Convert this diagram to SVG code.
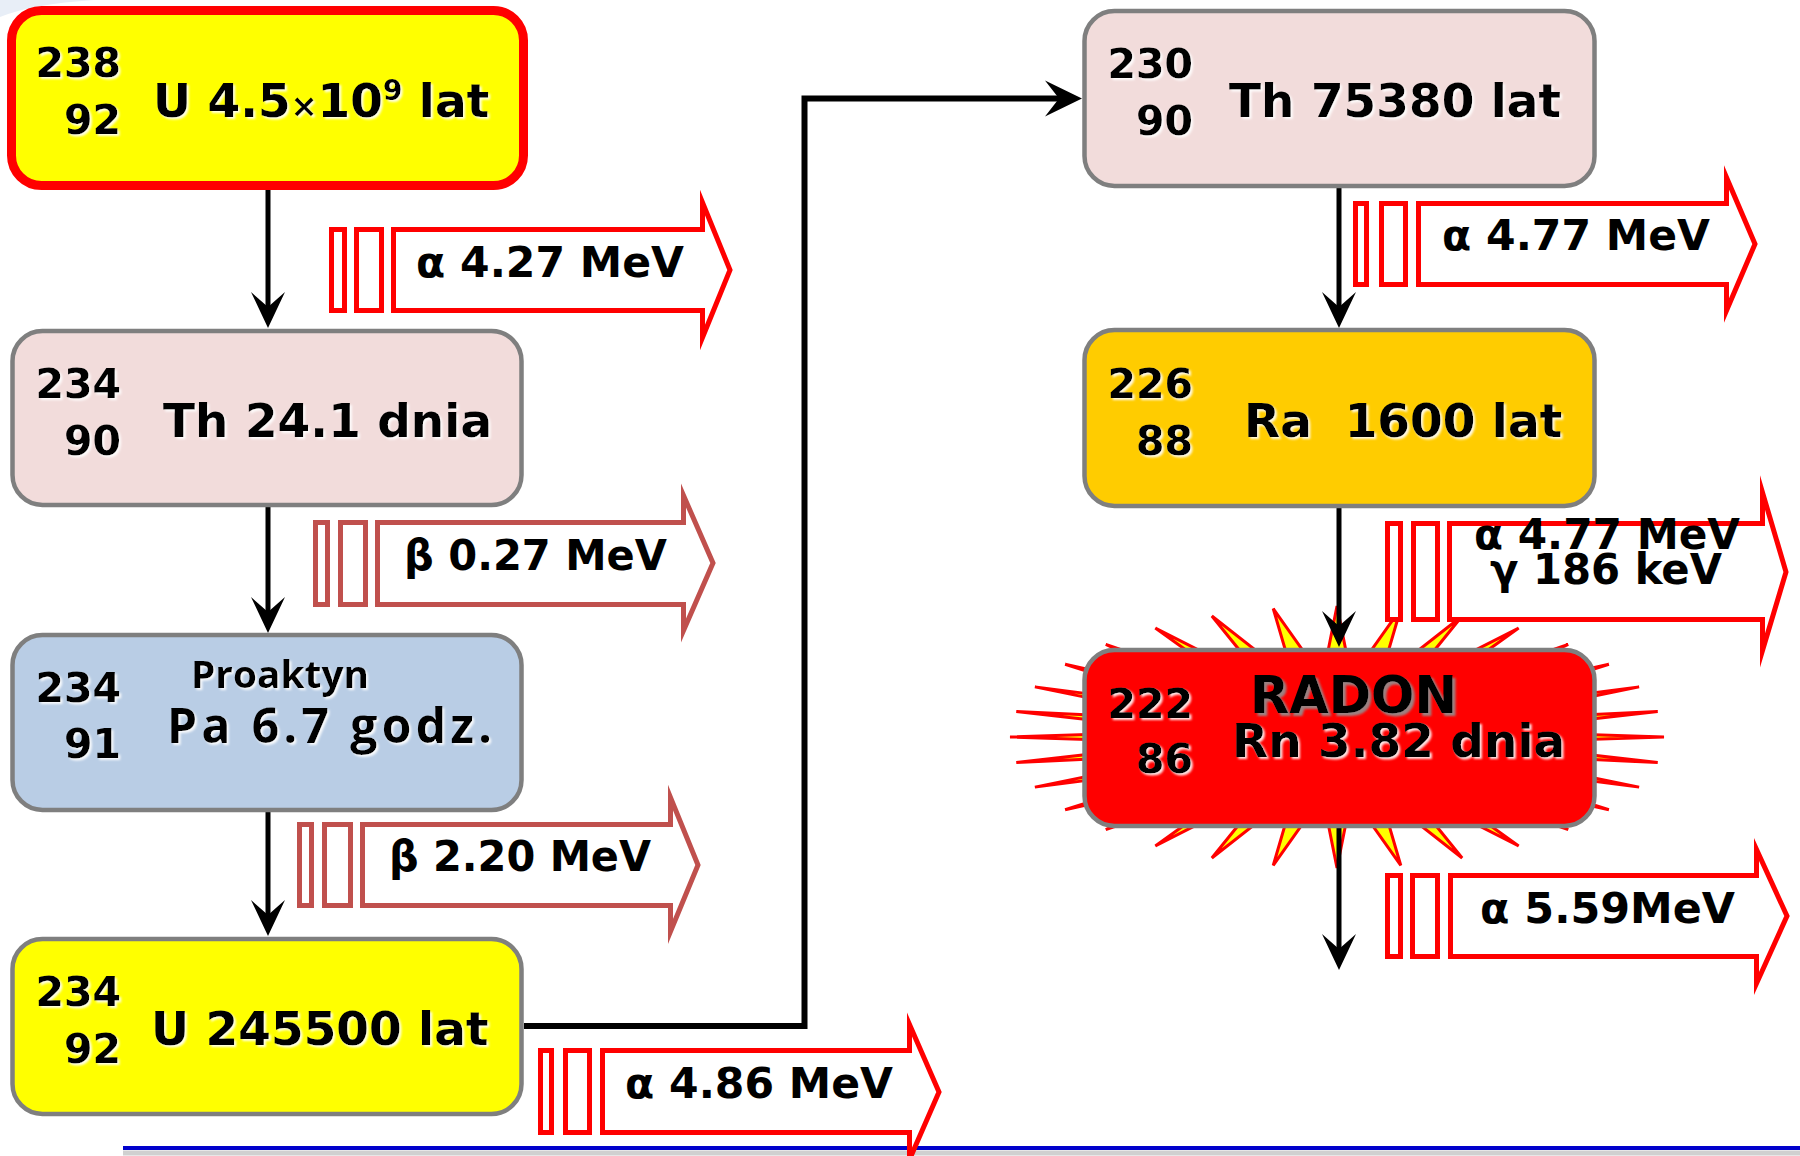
<svg xmlns="http://www.w3.org/2000/svg" width="1800" height="1156" viewBox="0 0 1800 1156">
<defs>
<style>
.t{font-family:"DejaVu Sans",Verdana,"Liberation Sans",sans-serif;font-weight:bold;fill:#000}
.num{font-size:41px;text-anchor:end}
.lbl{font-size:47px}
.en{font-size:42px}
.box{stroke:#7F7F7F;stroke-width:4.5}
.ar{fill:#fff;stroke:#FF0000;stroke-width:5;stroke-linejoin:miter;stroke-miterlimit:10}
.br{fill:#fff;stroke:#C0504D;stroke-width:5;stroke-linejoin:miter;stroke-miterlimit:10}
.ln{fill:none;stroke:#000;stroke-width:5}
.hd{fill:#000}
</style>
<filter id="ws" x="-5%" y="-20%" width="110%" height="140%">
<feDropShadow dx="2" dy="2" stdDeviation="0.8" flood-color="#FFFFFF" flood-opacity="0.9"/>
</filter>
<filter id="gs" x="-5%" y="-20%" width="110%" height="140%">
<feDropShadow dx="3" dy="3" stdDeviation="1.2" flood-color="#909090" flood-opacity="0.9"/>
</filter>
</defs>
<rect width="1800" height="1156" fill="#FFFFFF"/>
<path d="M0,0 L94,0 Q32,4 0,17 Z" fill="#E8EEF7"/>
<line x1="123" y1="1153" x2="1800" y2="1153" stroke="#D0D0D0" stroke-width="5"/>
<line x1="123" y1="1148" x2="1800" y2="1148" stroke="#0000CC" stroke-width="4"/>

<g id="starburst">
<polygon fill="#FFFF00" stroke="#FF0000" stroke-width="3" stroke-linejoin="miter" points="1664,737 1483.44,731.22 1657.72,711.44 1477.81,719.89 1639.11,686.87 1466.77,709.21 1608.89,664.22 1450.75,699.6 1568.22,644.37 1430.35,691.43 1518.67,628.08 1406.37,685.01 1462.14,615.97 1379.71,680.59 1400.79,608.52 1351.42,678.33 1337,606 1322.58,678.33 1273.21,608.52 1294.29,680.59 1211.86,615.97 1267.63,685.01 1155.33,628.08 1243.65,691.43 1105.78,644.37 1223.25,699.6 1065.11,664.22 1207.23,709.21 1034.89,686.87 1196.19,719.89 1016.28,711.44 1190.56,731.22 1010,737 1190.56,742.78 1016.28,762.56 1196.19,754.11 1034.89,787.13 1207.23,764.79 1065.11,809.78 1223.25,774.4 1105.78,829.63 1243.65,782.57 1155.33,845.92 1267.63,788.99 1211.86,858.03 1294.29,793.41 1273.21,865.48 1322.58,795.67 1337,868 1351.42,795.67 1400.79,865.48 1379.71,793.41 1462.14,858.03 1406.37,788.99 1518.67,845.92 1430.35,782.57 1568.22,829.63 1450.75,774.4 1608.89,809.78 1466.77,764.79 1639.11,787.13 1477.81,754.11 1657.72,762.56 1483.44,742.78"/>
</g>

<g id="emissions">
<g id="e1">
<rect class="ar" x="331.5" y="229.5" width="13" height="81"/>
<rect class="ar" x="356.5" y="229.5" width="25" height="81"/>
<path class="ar" d="M393.5,229.5 H702.5 V202.5 L730,270 L702.5,337.5 V310.5 H393.5 Z"/>
<text class="t en" x="416" y="277" textLength="268" lengthAdjust="spacingAndGlyphs">α 4.27 MeV</text>
</g>
<g id="e2">
<rect class="br" x="315.5" y="522.5" width="12" height="82"/>
<rect class="br" x="340.5" y="522.5" width="25" height="82"/>
<path class="br" d="M377.5,522.5 H683.5 V495.5 L713,563 L683.5,630.5 V604.5 H377.5 Z"/>
<text class="t en" x="404" y="570" textLength="263" lengthAdjust="spacingAndGlyphs">β 0.27 MeV</text>
</g>
<g id="e3">
<rect class="br" x="299.5" y="824.5" width="12" height="81"/>
<rect class="br" x="324.5" y="824.5" width="26" height="81"/>
<path class="br" d="M362.5,824.5 H670.5 V797.5 L698,865 L670.5,931.5 V905.5 H362.5 Z"/>
<text class="t en" x="389" y="871" textLength="262" lengthAdjust="spacingAndGlyphs">β 2.20 MeV</text>
</g>
<g id="e4">
<rect class="ar" x="540.5" y="1050.5" width="11" height="82"/>
<rect class="ar" x="565.5" y="1050.5" width="24" height="82"/>
<path class="ar" d="M602.5,1050.5 H909.5 V1024.5 L939,1092 L909.5,1159.5 V1132.5 H602.5 Z"/>
<text class="t en" x="625" y="1098" textLength="268" lengthAdjust="spacingAndGlyphs">α 4.86 MeV</text>
</g>
<g id="e5">
<rect class="ar" x="1355.5" y="203.5" width="11" height="81"/>
<rect class="ar" x="1381.5" y="203.5" width="24" height="81"/>
<path class="ar" d="M1418.5,203.5 H1726.5 V177.5 L1755,244 L1726.5,310.5 V284.5 H1418.5 Z"/>
<text class="t en" x="1442" y="250" textLength="268" lengthAdjust="spacingAndGlyphs">α 4.77 MeV</text>
</g>
<g id="e6">
<rect class="ar" x="1387.5" y="523.5" width="13" height="96"/>
<rect class="ar" x="1413.5" y="523.5" width="24" height="96"/>
<path class="ar" d="M1449.5,523.5 H1762.5 V492.5 L1786,572 L1762.5,650.5 V619.5 H1449.5 Z"/>
<text class="t en" x="1474" y="549" textLength="266" lengthAdjust="spacingAndGlyphs">α 4.77 MeV</text>
<text class="t en" x="1490" y="584" textLength="232" lengthAdjust="spacingAndGlyphs">γ 186 keV</text>
</g>
<g id="e7">
<rect class="ar" x="1387.5" y="875.5" width="13" height="81"/>
<rect class="ar" x="1412.5" y="875.5" width="25" height="81"/>
<path class="ar" d="M1450.5,875.5 H1756.5 V849.5 L1787,916 L1756.5,983.5 V956.5 H1450.5 Z"/>
<text class="t en" x="1480" y="923" textLength="255" lengthAdjust="spacingAndGlyphs">α 5.59MeV</text>
</g>
</g>

<g id="connectors">
<line class="ln" x1="268" y1="190" x2="268" y2="310"/>
<polygon class="hd" points="268,328 251,292 268,307 285,292"/>
<line class="ln" x1="268" y1="507" x2="268" y2="615"/>
<polygon class="hd" points="268,633 251,597 268,612 285,597"/>
<line class="ln" x1="268" y1="812" x2="268" y2="918"/>
<polygon class="hd" points="268,936 251,900 268,915 285,900"/>
<polyline fill="none" stroke="#000" stroke-width="6" stroke-linejoin="miter" points="524,1026 804.5,1026 804.5,98.5 1062,98.5"/>
<polygon class="hd" points="1082,98.5 1045,80.5 1059,98.5 1045,116.5"/>
<line class="ln" x1="1339" y1="188" x2="1339" y2="310"/>
<polygon class="hd" points="1339,328 1322,292 1339,307 1356,292"/>
<line class="ln" x1="1339" y1="508" x2="1339" y2="628"/>
<polygon class="hd" points="1339,647 1322,611 1339,626 1356,611"/>
<line class="ln" x1="1339" y1="828" x2="1339" y2="952"/>
<polygon class="hd" points="1339,970 1322,934 1339,949 1356,934"/>
</g>

<g id="u238">
<rect x="11.5" y="10.5" width="512" height="175" rx="30" fill="#FFFF00" stroke="#FF0000" stroke-width="9"/>
<g filter="url(#ws)">
<text class="t num" x="121" y="77">238</text>
<text class="t num" x="121" y="134">92</text>
<text class="t lbl" x="153" y="117">U 4.5<tspan style="font-size:32px">×</tspan>10<tspan dy="-17" style="font-size:28px">9</tspan><tspan dy="17"> lat</tspan></text>
</g>
</g>

<g id="th234">
<rect class="box" x="12.5" y="331" width="509" height="174" rx="30" fill="#F2DCDB"/>
<g filter="url(#ws)">
<text class="t num" x="121" y="398">234</text>
<text class="t num" x="121" y="455">90</text>
<text class="t lbl" x="163" y="437">Th 24.1 dnia</text>
</g>
</g>

<g id="pa234">
<rect class="box" x="12.5" y="635" width="509" height="175" rx="30" fill="#B9CDE5"/>
<g filter="url(#ws)">
<text class="t num" x="121" y="702">234</text>
<text class="t num" x="121" y="758">91</text>
<text x="191" y="688" style="font-family:'Open Sans','Noto Sans',sans-serif;font-weight:bold;font-size:37px" textLength="178" lengthAdjust="spacingAndGlyphs">Proaktyn</text>
<text x="167" y="743" style="font-family:'Open Sans','Noto Sans',sans-serif;font-weight:bold;font-size:48px" textLength="325" lengthAdjust="spacing">Pa 6.7 godz.</text>
</g>
</g>

<g id="u234">
<rect class="box" x="12.5" y="939" width="509" height="175" rx="30" fill="#FFFF00"/>
<g filter="url(#ws)">
<text class="t num" x="121" y="1006">234</text>
<text class="t num" x="121" y="1063">92</text>
<text class="t lbl" x="151" y="1045">U 245500 lat</text>
</g>
</g>

<g id="th230">
<rect class="box" x="1084.5" y="11" width="510" height="175" rx="30" fill="#F2DCDB"/>
<g filter="url(#ws)">
<text class="t num" x="1193" y="78">230</text>
<text class="t num" x="1193" y="135">90</text>
<text class="t lbl" x="1229" y="117">Th 75380 lat</text>
</g>
</g>

<g id="ra226">
<rect class="box" x="1084.5" y="330" width="510" height="176" rx="30" fill="#FFCC00"/>
<g filter="url(#ws)">
<text class="t num" x="1193" y="398">226</text>
<text class="t num" x="1193" y="455">88</text>
<text class="t lbl" x="1244" y="437" xml:space="preserve">Ra  1600 lat</text>
</g>
</g>

<g id="rn222">
<rect class="box" x="1084.5" y="650" width="510" height="176" rx="30" fill="#FF0000"/>
<g filter="url(#ws)">
<text class="t num" x="1193" y="718">222</text>
<text class="t num" x="1193" y="773">86</text>
<text class="t lbl" x="1232" y="757">Rn 3.82 dnia</text>
</g>
<text class="t" x="1250" y="713" style="font-size:51px" filter="url(#gs)">RADON</text>
</g>
</svg>
